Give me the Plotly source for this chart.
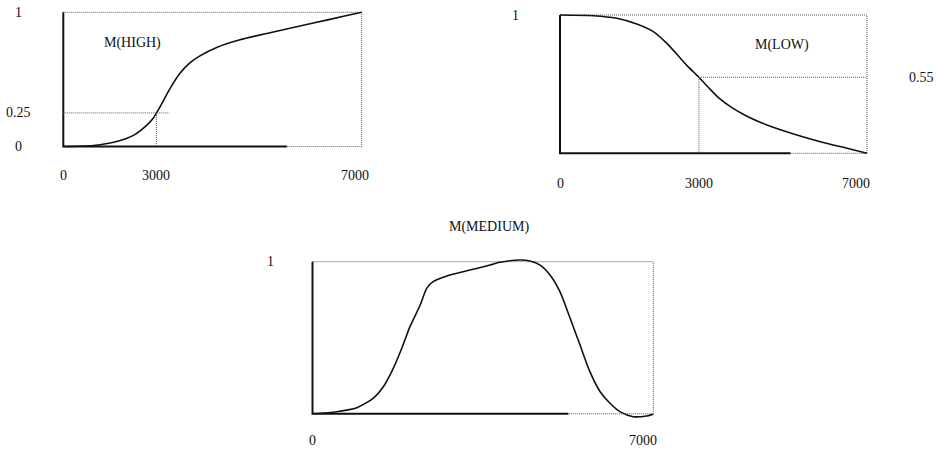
import numpy as np
import plotly.graph_objects as go

W, H = 937, 459
FONT = dict(family="Liberation Serif, Times New Roman, serif", size=14, color="#111")

# ---- data (x as fraction of the 0..7000 universe as drawn, y = membership) ----
high_x = [0.0, 0.101, 0.179, 0.235, 0.279, 0.302, 0.324, 0.358, 0.391, 0.425,
          0.458, 0.514, 0.592, 0.704, 0.838, 0.939, 1.0]
high_y = [0.0, 0.008, 0.038, 0.083, 0.158, 0.213, 0.295, 0.433, 0.545, 0.625,
          0.675, 0.738, 0.795, 0.853, 0.920, 0.970, 1.0]

low_x = [0.0, 0.109, 0.185, 0.250, 0.304, 0.348, 0.380, 0.413, 0.451, 0.486,
         0.520, 0.560, 0.609, 0.674, 0.761, 0.848, 0.935, 1.0]
low_y = [1.0, 0.995, 0.976, 0.935, 0.880, 0.795, 0.718, 0.636, 0.554, 0.470,
         0.395, 0.330, 0.268, 0.205, 0.140, 0.084, 0.036, 0.0]

med_x = [0.0, 0.071, 0.130, 0.178, 0.208, 0.237, 0.262, 0.286, 0.316, 0.335,
         0.354, 0.403, 0.462, 0.521, 0.550, 0.609, 0.638, 0.668, 0.697, 0.726,
         0.756, 0.785, 0.814, 0.844, 0.873, 0.902, 0.941, 0.981, 1.0]
med_y = [0.0, 0.014, 0.040, 0.102, 0.178, 0.299, 0.431, 0.573, 0.715, 0.825,
         0.869, 0.913, 0.945, 0.978, 0.996, 1.011, 1.005, 0.978, 0.913, 0.803,
         0.628, 0.452, 0.277, 0.145, 0.069, 0.014, -0.019, -0.014, -0.003]

x_tick_text_high = ["0", "3000", "7000"]
y_tick_text_high = ["1", "0.25", "0"]
y_tick_val_high = [1.0, 0.25, 0.0]
high_cut_y = 0.25
high_cut_x = float(np.interp(high_cut_y, high_y, high_x))
x_tick_pos_high = [0.0, high_cut_x, 1.0]

x_tick_text_low = ["0", "3000", "7000"]
low_cut_y = 0.55
low_cut_x = float(np.interp(-low_cut_y, [-v for v in low_y], low_x))
x_tick_pos_low = [0.0, low_cut_x, 1.0]

x_tick_text_med = ["0", "7000"]
x_tick_pos_med = [0.0, 1.0]

titles = ["M(HIGH)", "M(LOW)", "M(MEDIUM)"]

# ---- layout geometry (pixel boxes where data 0..1 maps) ----
boxes = {
    1: (63.3, 361.7, 12.3, 146.5),
    2: (560.0, 867.0, 15.0, 153.3),
    3: (312.5, 653.3, 261.7, 413.8),
}
XR = (-0.02, 1.02)
YR = (-0.05, 1.05)


def domain(box):
    x0, x1, y0, y1 = box
    pxa = x0 + XR[0] * (x1 - x0)
    pxb = x0 + XR[1] * (x1 - x0)
    pyc = y1 - YR[0] * (y1 - y0)
    pyd = y1 - YR[1] * (y1 - y0)
    return [pxa / W, pxb / W], [1 - pyc / H, 1 - pyd / H]


fig = go.Figure()

SOLID = dict(color="#111", width=2)
CURVE = dict(color="#111", width=1.6, shape="spline", smoothing=0.7)
DOT = dict(color="#555", width=1, dash="1px,1px")


def add_panel(i, cx, cy, solid_end):
    xa = "x" if i == 1 else f"x{i}"
    ya = "y" if i == 1 else f"y{i}"
    fig.add_trace(go.Scatter(x=[0, 1, 1, solid_end], y=[1, 1, 0, 0], mode="lines",
                             line=DOT, xaxis=xa, yaxis=ya, hoverinfo="skip"))
    fig.add_trace(go.Scatter(x=[0, 0, solid_end], y=[1, 0, 0], mode="lines",
                             line=SOLID, xaxis=xa, yaxis=ya, hoverinfo="skip"))
    fig.add_trace(go.Scatter(x=cx, y=cy, mode="lines", line=CURVE,
                             xaxis=xa, yaxis=ya))


add_panel(1, high_x, high_y, 0.749)
add_panel(2, low_x, low_y, 0.751)
add_panel(3, med_x, med_y, 0.751)

# guide lines
fig.add_trace(go.Scatter(x=[0, high_cut_x + 0.044, None, high_cut_x, high_cut_x],
                         y=[high_cut_y, high_cut_y, None, high_cut_y, 0],
                         mode="lines", line=DOT, xaxis="x", yaxis="y"))
fig.add_trace(go.Scatter(x=[low_cut_x, 1, None, low_cut_x, low_cut_x],
                         y=[low_cut_y, low_cut_y, None, low_cut_y, 0],
                         mode="lines", line=DOT, xaxis="x2", yaxis="y2"))

lay = dict(width=W, height=H, margin=dict(l=0, r=0, t=0, b=0),
           paper_bgcolor="white", plot_bgcolor="rgba(0,0,0,0)",
           showlegend=False, font=FONT)
for i in (1, 2, 3):
    dx, dy = domain(boxes[i])
    xk = "xaxis" if i == 1 else f"xaxis{i}"
    yk = "yaxis" if i == 1 else f"yaxis{i}"
    ya = "y" if i == 1 else f"y{i}"
    xa = "x" if i == 1 else f"x{i}"
    lay[xk] = dict(domain=dx, range=list(XR), visible=False, anchor=ya, fixedrange=True)
    lay[yk] = dict(domain=dy, range=list(YR), visible=False, anchor=xa, fixedrange=True)
fig.update_layout(**lay)

ann = []


def A(text, x, y, xref, yref, xshift=0, yshift=0):
    ann.append(dict(text=text, x=x, y=y, xref=xref, yref=yref, showarrow=False,
                    xanchor="center", yanchor="middle", xshift=xshift, yshift=yshift,
                    font=FONT))


# panel 1 labels
for t, v in zip(y_tick_text_high, y_tick_val_high):
    A(t, 18.5 / W, v, "paper", "y")
for t, p in zip(x_tick_text_high, x_tick_pos_high):
    A(t, p, 1 - 175 / H, "x", "paper", xshift=(-7 if p == 1.0 else 0))
A(titles[0], 132 / W, 1 - 43 / H, "paper", "paper")

# panel 2 labels
A("1", 515 / W, 1.0, "paper", "y2")
A(f"{low_cut_y:.2f}", 921 / W, low_cut_y, "paper", "y2")
for t, p in zip(x_tick_text_low, x_tick_pos_low):
    A(t, p, 1 - 183 / H, "x2", "paper", xshift=(-11 if p == 1.0 else 0))
A(titles[1], 782 / W, 1 - 45 / H, "paper", "paper")

# panel 3 labels
A("1", 270 / W, 1.0, "paper", "y3")
for t, p in zip(x_tick_text_med, x_tick_pos_med):
    A(t, p, 1 - 440 / H, "x3", "paper", xshift=(-10 if p == 1.0 else 0))
A(titles[2], 489 / W, 1 - 227 / H, "paper", "paper")

fig.update_layout(annotations=ann)
fig.write_html("out.html", config={"displayModeBar": False},
               post_script="document.body.style.margin='0';")
